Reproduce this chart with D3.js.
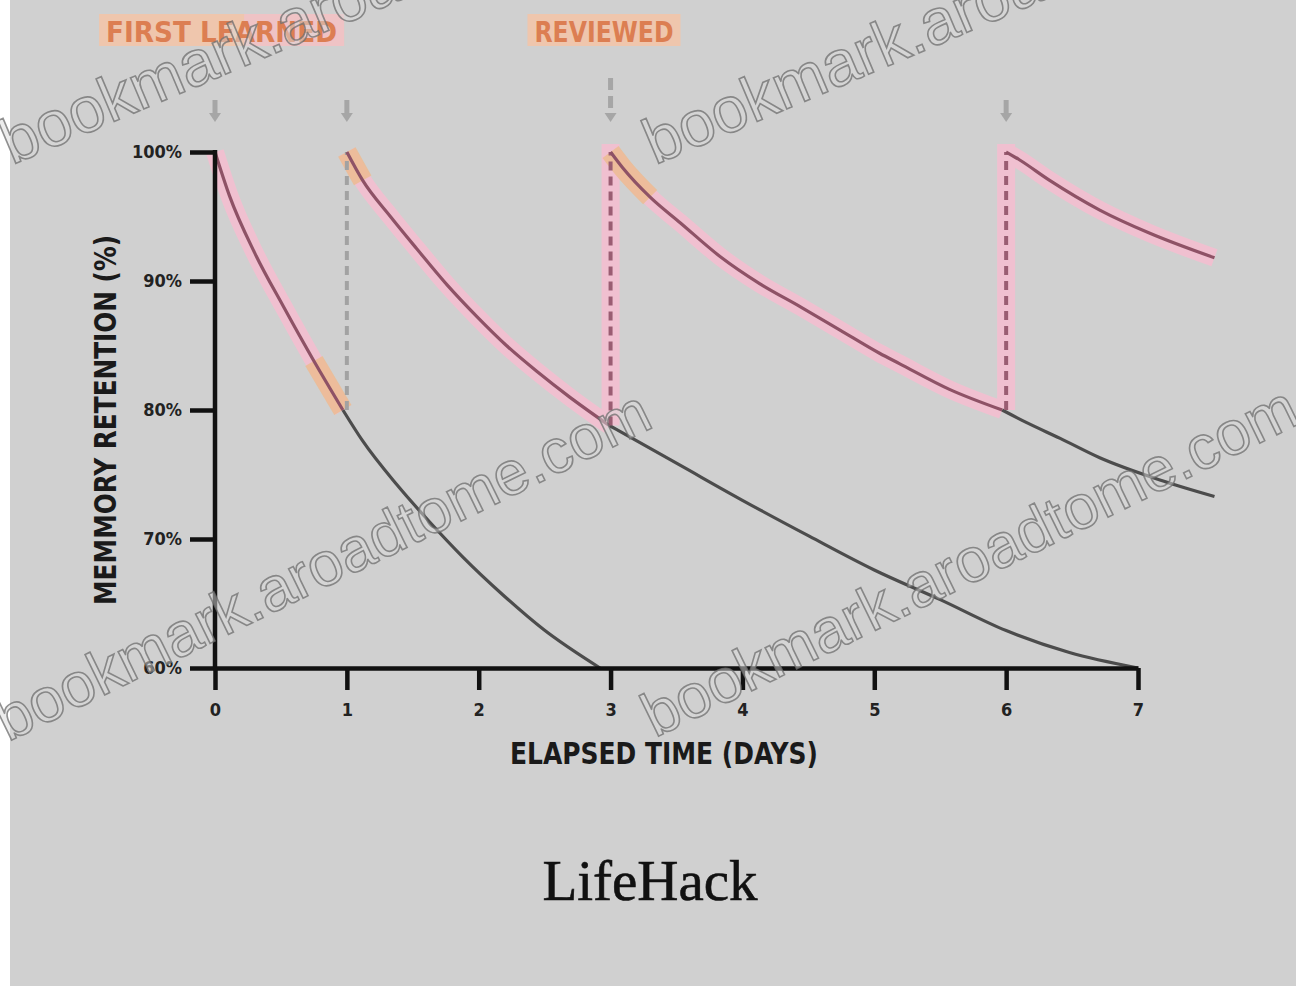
<!DOCTYPE html>
<html><head><meta charset="utf-8">
<script src="https://cdn.jsdelivr.net/npm/d3@7"></script>
<style>body{margin:0;background:#d0d0d0;}svg{display:block}</style>
</head><body><svg id="c" width="1296" height="986"></svg>
<script>
// ---- data ----
const xTicks = [0,1,2,3,4,5,6,7];
const xTickLabels = ["0","1","2","3","4","5","6","7"];
const yTicks = [60,70,80,90,100];
const yTickLabels = ["60%","70%","80%","90%","100%"];
const reviewDays = [0,1,3,6];
// retention curves: [day, retention %]
const learn1   = [[0,100],[0.11,96.6],[0.30,92.2],[0.52,88.0],[0.75,83.8],[0.97,80.0]];
const forget1  = [[0.97,80.0],[1.12,77.6],[1.38,74.2],[1.63,71.3],[1.88,68.6],[2.18,65.7],[2.49,63.0],[2.92,60.0]];
const review1  = [[1.0,100],[1.12,97.8],[1.33,95.0],[1.53,92.5],[1.76,89.7],[1.99,87.2],[2.21,85.0],[2.44,83.0],[2.69,81.0],[2.99,78.8]];
const forget2  = [[2.99,78.8],[3.53,75.7],[4.0,73.0],[4.51,70.2],[5.0,67.6],[5.5,65.3],[6.0,62.9],[6.48,61.2],[7.0,60.0]];
const review3  = [[3.0,100],[3.09,98.8],[3.30,96.5],[3.53,94.5],[3.83,91.9],[4.13,89.8],[4.44,88.0],[4.74,86.2],[5.04,84.4],[5.19,83.6],[5.57,81.6],[5.97,80.0]];
const forget3  = [[5.97,80.0],[6.16,79.0],[6.41,77.8],[6.71,76.3],[7.16,74.6],[7.58,73.3]];
const review6  = [[6.0,100],[6.10,99.4],[6.33,97.8],[6.71,95.5],[7.09,93.7],[7.58,91.8]];
// jumps at review: [day, from %, to %]
const jumps = [[1,80.0,100],[3,78.8,100],[6,80.0,100]];
const jumpHighlighted = [false,true,true];
const topLabels = ["FIRST LEARNED","REVIEWED"];
const topLabelDays = [0.05,2.95];

// ---- scales ----
const svg = d3.select("#c");
const x = d3.scaleLinear().domain([0,7]).range([215,1138]);
const y = d3.scaleLinear().domain([60,100]).range([668,152]);
const line = d3.line().x(d=>x(d[0])).y(d=>y(d[1])).curve(d3.curveMonotoneX);

svg.append("rect").attr("width",1296).attr("height",986).attr("fill","#d0d0d0");
svg.append("rect").attr("width",10).attr("height",986).attr("fill","#ffffff");

const F = "'DejaVu Sans Condensed','DejaVu Sans','Liberation Sans Narrow',sans-serif";

// ---- top labels ----
const lblW = [245,153];
topLabels.forEach((t,i)=>{
  const cx = x(topLabelDays[i]);
  const g = svg.append("g");
  g.append("rect").attr("x",cx-lblW[i]/2).attr("y",14).attr("width",lblW[i]).attr("height",32).attr("fill","#efc6ad");
  if(i===0) g.append("rect").attr("x",cx+lblW[i]/2-100).attr("y",14).attr("width",100).attr("height",32).attr("fill","#efc2cf").attr("opacity",0.7);
  g.append("text").attr("x",cx).attr("y",42).attr("text-anchor","middle")
    .attr("font-family",F).attr("font-weight","bold").attr("font-size",28).attr("font-stretch","condensed")
    .attr("textLength",lblW[i]-14).attr("lengthAdjust","spacingAndGlyphs")
    .attr("fill","#dc7e52").text(t);
});
// small markers under labels
reviewDays.forEach((d,i)=>{
  const top = d===3 ? 78 : 100;
  svg.append("line").attr("x1",x(d)).attr("x2",x(d)).attr("y1",top).attr("y2",114)
    .attr("stroke","#a6a6a6").attr("stroke-width",5).attr("stroke-dasharray", d===3?"12,6":null);
  svg.append("path").attr("d",`M${x(d)-6},113 L${x(d)+6},113 L${x(d)},122 Z`).attr("fill","#a6a6a6");
});

// ---- highlights (pink) ----
const pinkSegs = [learn1, review1, review3, review6];
pinkSegs.forEach(s=>{
  svg.append("path").attr("d",line(s)).attr("fill","none").attr("stroke","#f0c0d0").attr("stroke-width",18);
});
jumps.forEach((j,i)=>{
  if(!jumpHighlighted[i]) return;
  svg.append("line").attr("x1",x(j[0])).attr("x2",x(j[0])).attr("y1",y(j[1])).attr("y2",y(j[2])-8)
    .attr("stroke","#f0c0d0").attr("stroke-width",18);
});
// orange accents
[learn1.slice(-2), review1.slice(0,2), review3.slice(0,3)].forEach(s=>{
  svg.append("path").attr("d",line(s)).attr("fill","none").attr("stroke","#ecbb92").attr("stroke-width",20).attr("opacity",0.85);
});

// ---- grey forgetting continuations ----
[forget1, forget2, forget3].forEach(s=>{
  svg.append("path").attr("d",line(s)).attr("fill","none").attr("stroke","#4c4c4c").attr("stroke-width",3.2);
});
// jump dashed verticals
jumps.forEach((j,i)=>{
  svg.append("line").attr("x1",x(j[0])).attr("x2",x(j[0])).attr("y1",y(j[1])).attr("y2",y(j[2]))
    .attr("stroke", jumpHighlighted[i] ? "#9a5d72" : "#a2a2a2").attr("stroke-width",4)
    .attr("stroke-dasharray","9,6");
});
// reviewed curves
pinkSegs.forEach(s=>{
  svg.append("path").attr("d",line(s)).attr("fill","none").attr("stroke","#8e5266").attr("stroke-width",3.2);
});

// ---- axes ----
const yAxis = svg.append("g").attr("transform",`translate(${x(0)},0)`)
  .call(d3.axisLeft(y).tickValues(yTicks).tickFormat((d,i)=>yTickLabels[i]).tickSize(25).tickPadding(8).tickSizeOuter(0));
const xAxis = svg.append("g").attr("transform",`translate(0,${y(60)})`)
  .call(d3.axisBottom(x).tickValues(xTicks).tickFormat((d,i)=>xTickLabels[i]).tickSize(22).tickPadding(13).tickSizeOuter(0));
[yAxis,xAxis].forEach(a=>{
  a.select(".domain").attr("stroke","#111").attr("stroke-width",4.5);
  a.selectAll(".tick line").attr("stroke","#111").attr("stroke-width",4.5);
  a.selectAll(".tick text").attr("font-family",F).attr("font-weight","bold").attr("font-size",18)
    .attr("font-stretch","condensed").attr("fill","#222");
});
yAxis.select(".domain").attr("d",`M0,${y(100)-2}V${y(60)+2}`);

// axis titles
svg.append("text").attr("x",664).attr("y",764).attr("text-anchor","middle")
  .attr("font-family",F).attr("font-weight","bold").attr("font-size",30).attr("font-stretch","condensed")
  .attr("textLength",308).attr("lengthAdjust","spacingAndGlyphs").attr("fill","#1a1a1a")
  .text("ELAPSED TIME (DAYS)");
svg.append("text").attr("transform","translate(116,420) rotate(-90)").attr("text-anchor","middle")
  .attr("font-family",F).attr("font-weight","bold").attr("font-size",30).attr("font-stretch","condensed")
  .attr("textLength",370).attr("lengthAdjust","spacingAndGlyphs").attr("fill","#1a1a1a")
  .text("MEMMORY RETENTION (%)");

// brand
svg.append("text").attr("x",650).attr("y",900).attr("text-anchor","middle")
  .attr("font-family","'Liberation Serif','DejaVu Serif',serif").attr("font-size",57)
  .attr("fill","#111").attr("stroke","#111").attr("stroke-width",0.6).text("LifeHack");

// ---- watermarks ----
const wmText = "bookmark.aroadtome.com";
const wmPos = [[12,165,-23,64],[655,165,-23,64],[8,742,-26,62],[655,738,-26,62]];
wmPos.forEach(p=>{
  svg.append("text").attr("transform",`translate(${p[0]},${p[1]}) rotate(${p[2]})`)
    .attr("font-family","'Liberation Sans',Arial,sans-serif").attr("font-size",p[3])
    .attr("fill","#dadada").attr("fill-opacity",0.5).attr("stroke","#6e6e6e").attr("stroke-width",1.6)
    .attr("stroke-opacity",0.75).text(wmText);
});
</script></body></html>
